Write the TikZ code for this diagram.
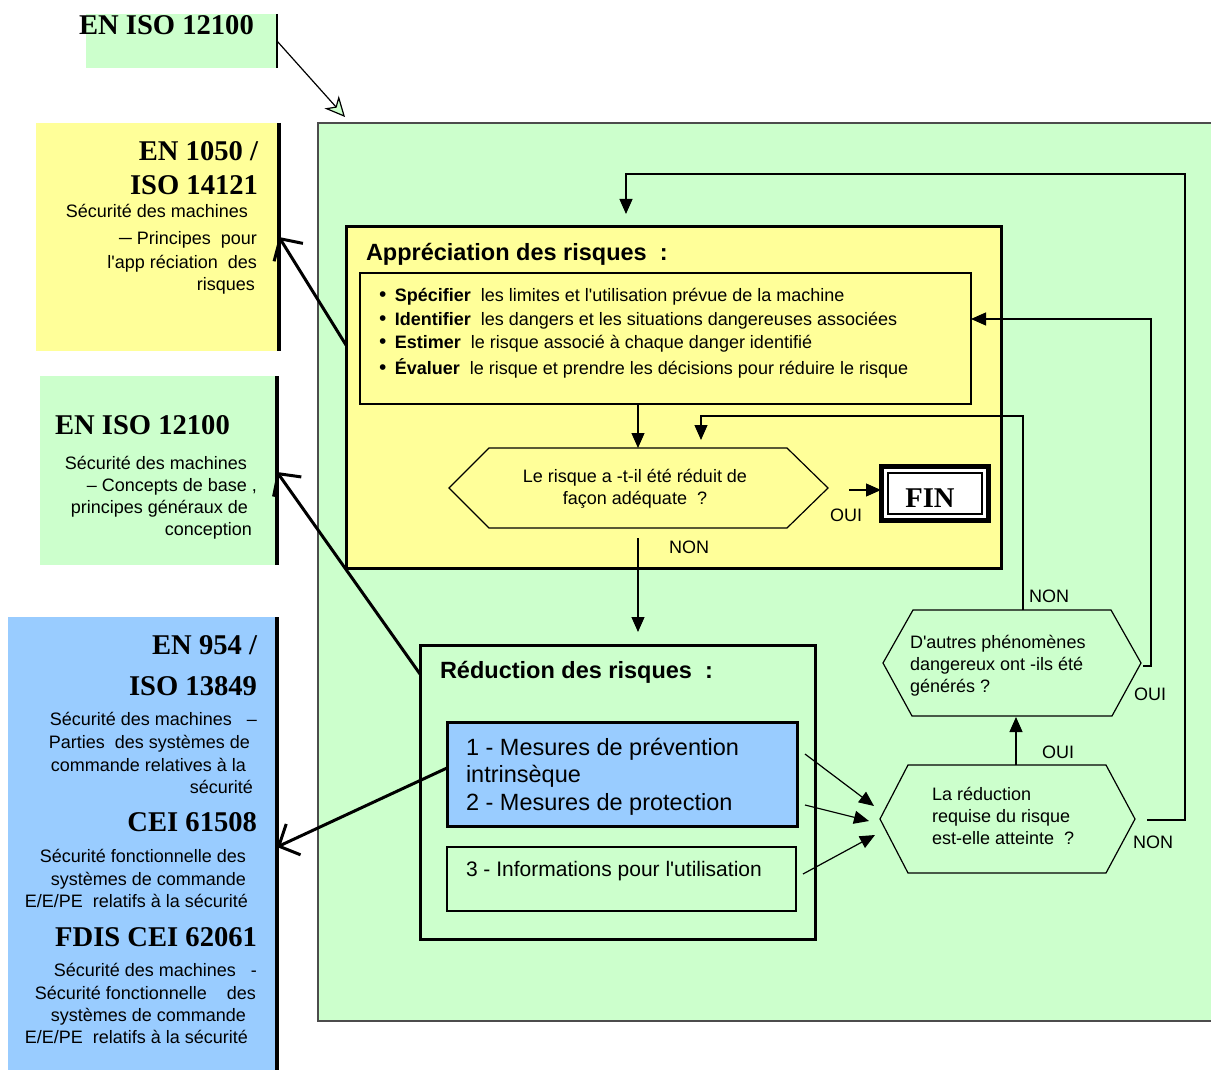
\documentclass[tikz,border=0pt]{standalone}
\usepackage{fontspec}
\setmainfont{Liberation Serif}
\setsansfont{Liberation Sans}[Ligatures=TeXOff]
\usetikzlibrary{arrows.meta}
\definecolor{gfill}{HTML}{CCFFCC}
\definecolor{yfill}{HTML}{FFFF99}
\definecolor{bfill}{HTML}{99CCFF}
\begin{document}
\begin{tikzpicture}[x=1pt,y=-1pt,
  every node/.style={inner sep=0pt, outer sep=0pt},
  ttl/.style={font=\fontsize{28.6}{32}\selectfont\bfseries},
  bdy/.style={font=\fontsize{18}{22}\selectfont\sffamily},
  hd/.style={font=\fontsize{23.5}{27}\selectfont\sffamily\bfseries},
  big/.style={font=\fontsize{23.5}{27}\selectfont\sffamily},
  mid/.style={font=\fontsize{21}{25}\selectfont\sffamily},
  thinln/.style={line width=1.2pt},
  conn/.style={line width=1.2pt, -{Triangle[length=15pt,width=13pt]}},
  refarr/.style={line width=3pt, -{Straight Barb[length=16pt,width=34pt]}},
  box/.style={rectangle, anchor=north west}
]
\useasboundingbox (0,0) rectangle (1211,1070);

% ---------- left reference boxes ----------
\node[box, fill=gfill, minimum width=191pt, minimum height=54pt] (topbox) at (86,14) {};
\draw[thinln] (topbox.north east) -- (topbox.south east);
\node[ttl, anchor=base west] (toptxt) at (79,35) {EN ISO 12100};

\node[box, fill=yfill, minimum width=243pt, minimum height=228pt] (lb1) at (36,123) {};
\draw[line width=3.5pt] (lb1.north east) -- (lb1.south east);
\node[box, fill=gfill, minimum width=237pt, minimum height=189pt] (lb2) at (40,376) {};
\draw[line width=3.5pt] (lb2.north east) -- (lb2.south east);
\node[box, fill=bfill, minimum width=269pt, minimum height=453pt] (lb3) at (8,617) {};
\draw[line width=3.5pt] (lb3.north east) -- (lb3.south east);

\node[ttl, anchor=base east] (a1) at (258,161) {EN 1050 /};
\node[ttl, anchor=base east] (a2) at (258,194) {ISO 14121};
\node[bdy, anchor=base east] (a3) at (248,218) {Sécurité des machines};
\node[bdy, anchor=base east] (a4) at (257,244) {─\ Principes\ \ pour};
\node[bdy, anchor=base east] (a5) at (257,268) {l'app réciation\ \ des};
\node[bdy, anchor=base east] (a6) at (255,290) {risques};

\node[ttl, anchor=base west] (b1) at (55,434) {EN ISO 12100};
\node[bdy, anchor=base east] (b2) at (247,469) {Sécurité des machines};
\node[bdy, anchor=base east] (b3) at (257,491) {– Concepts de base\ ,};
\node[bdy, anchor=base east] (b4) at (248,513) {principes généraux de};
\node[bdy, anchor=base east] (b5) at (252,535) {conception};

\node[ttl, anchor=base east] (c1) at (257,654) {EN 954 /};
\node[ttl, anchor=base east] (c2) at (257,695) {ISO 13849};
\node[bdy, anchor=base east] (c3) at (257,725) {Sécurité des machines\ \ \ –};
\node[bdy, anchor=base east] (c4) at (250,748) {Parties\ \ des systèmes de};
\node[bdy, anchor=base east] (c5) at (246,771) {commande relatives à la};
\node[bdy, anchor=base east] (c6) at (253,793) {sécurité};
\node[ttl, anchor=base east] (c7) at (257,831) {CEI 61508};
\node[bdy, anchor=base east] (c8) at (246,862) {Sécurité fonctionnelle des};
\node[bdy, anchor=base east] (c9) at (246,885) {systèmes de commande};
\node[bdy, anchor=base east] (c10) at (248,907) {E/E/PE\ \ relatifs à la sécurité};
\node[ttl, anchor=base east] (c11) at (257,946) {FDIS CEI 62061};
\node[bdy, anchor=base east] (c12) at (257,976) {Sécurité des machines\ \ \ -};
\node[bdy, anchor=base east] (c13) at (256,999) {Sécurité fonctionnelle\ \ \ \ des};
\node[bdy, anchor=base east] (c14) at (246,1021) {systèmes de commande};
\node[bdy, anchor=base east] (c15) at (248,1043) {E/E/PE\ \ relatifs à la sécurité};

% ---------- main green area ----------
\node[box, fill=gfill, minimum width=900pt, minimum height=898pt] (main) at (318,123) {};
\draw[thinln, black!70] (main.north east) -- (main.north west) -- (main.south west) -- (main.south east);

\coordinate (mainin) at (345,117);
\draw[thinln, -{Stealth[open, fill=gfill, length=20pt, width=19pt, inset=6pt]}] (topbox.east) -- (mainin);

% assessment box
\node[box, fill=yfill, draw, line width=3pt, minimum width=655pt, minimum height=342pt] (assess) at (346,226) {};
\node[hd, anchor=base west] (assesst) at (366,260) {Appréciation des risques\ \ :};
\node[box, draw, thinln, minimum width=611pt, minimum height=131pt] (inner) at (360,273) {};
\node[bdy, anchor=base west] (i1) at (379,301) {{\fontsize{21}{22}\selectfont•}\hspace{8.5pt}\textbf{Spécifier}\ \ les limites et l'utilisation prévue de la machine};
\node[bdy, anchor=base west] (i2) at (379,325) {{\fontsize{21}{22}\selectfont•}\hspace{8.5pt}\textbf{Identifier}\ \ les dangers et les situations dangereuses associées};
\node[bdy, anchor=base west] (i3) at (379,348) {{\fontsize{21}{22}\selectfont•}\hspace{8.5pt}\textbf{Estimer}\ \ le risque associé à chaque danger identifié};
\node[bdy, anchor=base west] (i4) at (379,374) {{\fontsize{21}{22}\selectfont•}\hspace{8.5pt}\textbf{Évaluer}\ \ le risque et prendre les décisions pour réduire le risque};

% hexagon 1
\draw[thinln] (449,488) -- (489,448) -- (787,448) -- (828,488) -- (787,528) -- (489,528) -- cycle;
\node[bdy, anchor=base] (h1a) at (635,482) {Le risque a -t-il été réduit de};
\node[bdy, anchor=base] (h1b) at (635,504) {façon adéquate\ \ ?};

% FIN
\node[box, fill=black, minimum width=112pt, minimum height=59pt] (finout) at (879,464) {};
\node[box, fill=white, minimum width=102pt, minimum height=49pt] (finmid) at (884,469) {};
\node[box, draw, thinln, fill=white, minimum width=94pt, minimum height=41pt] (fin) at (888,473) {};
\node[ttl] (fintxt) at (930,498) {FIN};

% reduction box
\node[box, draw, line width=3pt, minimum width=395pt, minimum height=294pt] (reduc) at (420,645) {};
\node[hd, anchor=base west] (reduct) at (440,678) {Réduction des risques\ \ :};
\node[box, draw, fill=bfill, line width=3pt, minimum width=350pt, minimum height=104pt] (blue) at (447,722) {};
\node[big, anchor=base west] (m1) at (466,755) {1 - Mesures de prévention};
\node[big, anchor=base west] (m2) at (466,782) {intrinsèque};
\node[big, anchor=base west] (m3) at (466,810) {2 - Mesures de protection};
\node[box, draw, thinln, minimum width=349pt, minimum height=64pt] (info) at (447,847) {};
\node[mid, anchor=base west] (m4) at (466,876) {3 - Informations pour l'utilisation};

% hexagon 2
\draw[thinln] (883,663) -- (913,610) -- (1111,610) -- (1141,663) -- (1112,716) -- (912,716) -- cycle;
\node[bdy, anchor=base west] (h2a) at (910,648) {D'autres phénomènes};
\node[bdy, anchor=base west] (h2b) at (910,670) {dangereux ont -ils été};
\node[bdy, anchor=base west] (h2c) at (910,692) {générés ?};

% hexagon 3
\draw[thinln] (880,819) -- (908,765) -- (1106,765) -- (1135,819) -- (1106,873) -- (908,873) -- cycle;
\node[bdy, anchor=base west] (h3a) at (932,800) {La réduction};
\node[bdy, anchor=base west] (h3b) at (932,822) {requise du risque};
\node[bdy, anchor=base west] (h3c) at (932,844) {est-elle atteinte\ \ ?};

% labels
\node[bdy, anchor=base] (l1) at (689,553) {NON};
\node[bdy, anchor=base] (l2) at (846,521) {OUI};
\node[bdy, anchor=base] (l3) at (1049,602) {NON};
\node[bdy, anchor=base] (l4) at (1150,700) {OUI};
\node[bdy, anchor=base] (l5) at (1058,758) {OUI};
\node[bdy, anchor=base] (l6) at (1153,848) {NON};

% connector coordinates
\coordinate (innS) at (638,404);
\coordinate (h1N) at (638,448);
\coordinate (h1N2) at (701,440);
\coordinate (h1S) at (638,538);
\coordinate (redN) at (638,632);
\coordinate (h1E) at (849,490);
\coordinate (finW) at (881,490);
\coordinate (h3N) at (1016,765);
\coordinate (h2S) at (1016,717);
\coordinate (h2E) at (1143,666);
\coordinate (innE) at (971,319);
\coordinate (h2N) at (1023,610);
\coordinate (h3E) at (1147,820);
\coordinate (assN) at (626,214);
\coordinate (b1o) at (805,754);
\coordinate (b2o) at (805,805);
\coordinate (b3o) at (803,874);
\coordinate (h3W1) at (874,806);
\coordinate (h3W2) at (869,821);
\coordinate (h3W3) at (875,835);

\draw[conn] (innS) -- (h1N);
\draw[conn] (h1S) -- (redN);
\draw[conn] (h1E) -- (finW);
\draw[conn] (h3N) -- (h2S);
\draw[conn] (h2E) -- (1151,666) -- (1151,319) -- (innE);
\draw[conn] (h2N) -- (1023,416) -- (701,416) -- (h1N2);
\draw[conn] (h3E) -- (1185,820) -- (1185,174) -- (626,174) -- (assN);
\draw[conn] (b1o) -- (h3W1);
\draw[conn] (b2o) -- (h3W2);
\draw[conn] (b3o) -- (h3W3);

% thick reference arrows
\coordinate (assW) at (346,345);
\coordinate (redW) at (420,674);
\coordinate (blueW) at (447,768);
\draw[refarr] (assW) -- (lb1.east |- 0,237);
\draw[refarr] (redW) -- (lb2.east |- 0,472);
\draw[refarr] (blueW) -- (lb3.east |- 0,847);
\end{tikzpicture}
\end{document}
